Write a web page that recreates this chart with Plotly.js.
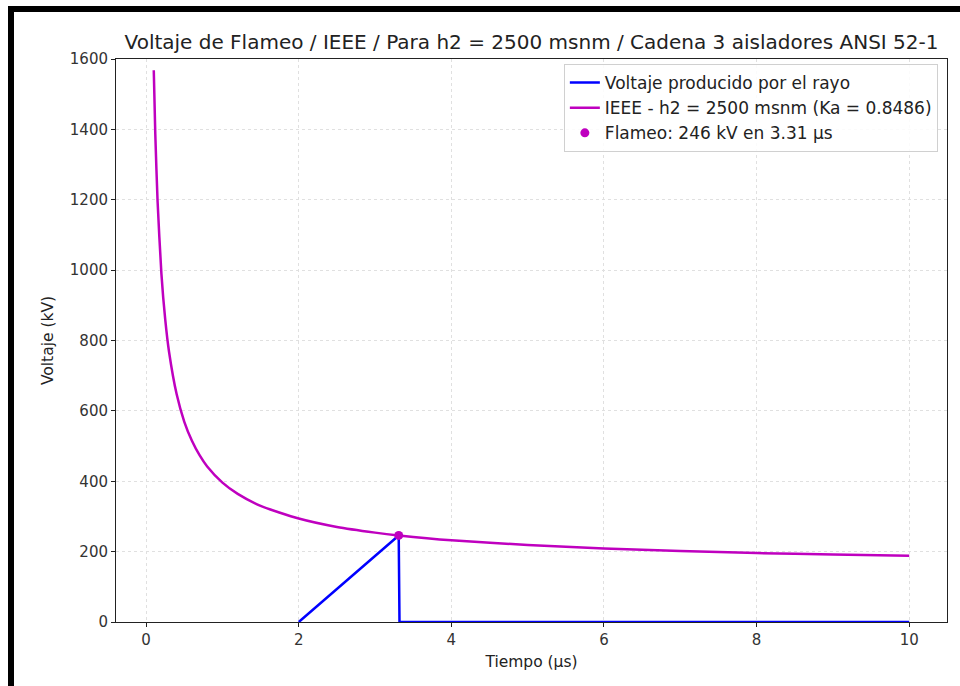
<!DOCTYPE html>
<html>
<head>
<meta charset="utf-8">
<script src="https://cdn.plot.ly/plotly-3.0.1.min.js"></script>
<style>
  html, body { margin: 0; padding: 0; background: #fff; }
  #wrap { position: relative; width: 960px; height: 686px; overflow: hidden; }
  #chart { position: absolute; left: 0; top: 0; width: 960px; height: 686px; }
  .bar { position: absolute; background: #000; }
</style>
</head>
<body>
<div id="wrap">
  <div id="chart"></div>
  <div class="bar" style="left:8px; top:6px; width:952px; height:6px;"></div>
  <div class="bar" style="left:8px; top:6px; width:6px; height:680px;"></div>
</div>
<script>
// IEEE curve
const tCurve = [0.1, 0.12, 0.15, 0.2, 0.25, 0.3, 0.4, 0.5, 0.6, 0.7, 0.8, 1.0, 1.2, 1.5, 2, 2.5, 3, 3.31, 4, 5, 6, 7, 8, 9, 10];
const vCurve = [1568, 1386, 1195, 990, 860, 768, 647, 569, 515, 474, 442, 396, 364, 330, 294, 270, 254, 246, 232, 219, 209, 202, 196, 192, 188];
// Lightning voltage
const tRayo = [2, 3.31, 3.32, 10];
const vRayo = [0, 246, 0, 0];
// Flashover point
const tFlameo = [3.31];
const vFlameo = [246];

const names = ["Voltaje producido por el rayo", "IEEE - h2 = 2500 msnm (Ka = 0.8486)", "Flameo: 246 kV en 3.31 µs"];
const xTicks = [0, 2, 4, 6, 8, 10];
const yTicks = [0, 200, 400, 600, 800, 1000, 1200, 1400, 1600];

const font = "DejaVu Sans, sans-serif";

const traces = [
  { x: tRayo, y: vRayo, mode: "lines", name: names[0], line: { color: "#0000ff", width: 2.5 } },
  { x: tCurve, y: vCurve, mode: "lines", name: names[1], line: { color: "#bf00bf", width: 2.5, shape: "spline", smoothing: 0.6 } },
  { x: tFlameo, y: vFlameo, mode: "markers", name: names[2], marker: { color: "#bf00bf", size: 9 } }
];

const axisCommon = {
  showline: true, mirror: true, linecolor: "#222", linewidth: 1,
  ticks: "outside", ticklen: 4, tickcolor: "#222", tickwidth: 1,
  showgrid: true, gridcolor: "#e0e0e0", griddash: "3px,3px", gridwidth: 1,
  zeroline: false,
  tickfont: { family: font, size: 15, color: "#333" }
};

const layout = {
  width: 960, height: 686,
  margin: { l: 116, r: 13, t: 59, b: 64 },
  paper_bgcolor: "#fff", plot_bgcolor: "#fff",
  font: { family: font, color: "#222" },
  title: {
    text: "Voltaje de Flameo / IEEE / Para h2 = 2500 msnm / Cadena 3 aisladores ANSI 52-1",
    font: { family: font, size: 20, color: "#222" },
    x: 0.5, xref: "paper", xanchor: "center",
    y: 1 - 42 / 686, yref: "container", yanchor: "middle"
  },
  xaxis: Object.assign({}, axisCommon, {
    range: [-0.395, 10.495], tickvals: xTicks, ticktext: xTicks.map(String),
    title: { text: "Tiempo (µs)", font: { family: font, size: 15.5, color: "#222" }, standoff: 8 }
  }),
  yaxis: Object.assign({}, axisCommon, {
    range: [0, 1600], tickvals: yTicks, ticktext: yTicks.map(String),
    title: { text: "Voltaje (kV)", font: { family: font, size: 15.5, color: "#222" }, standoff: 12 }
  }),
  legend: {
    x: 0.989, xanchor: "right", y: 0.991, yanchor: "top",
    bgcolor: "rgba(255,255,255,0.85)", bordercolor: "#d0d0d0", borderwidth: 1,
    font: { family: font, size: 17, color: "#222" },
    tracegroupgap: 0
  },
  showlegend: true
};

Plotly.newPlot("chart", traces, layout, { displayModeBar: false, staticPlot: true });
</script>
</body>
</html>
